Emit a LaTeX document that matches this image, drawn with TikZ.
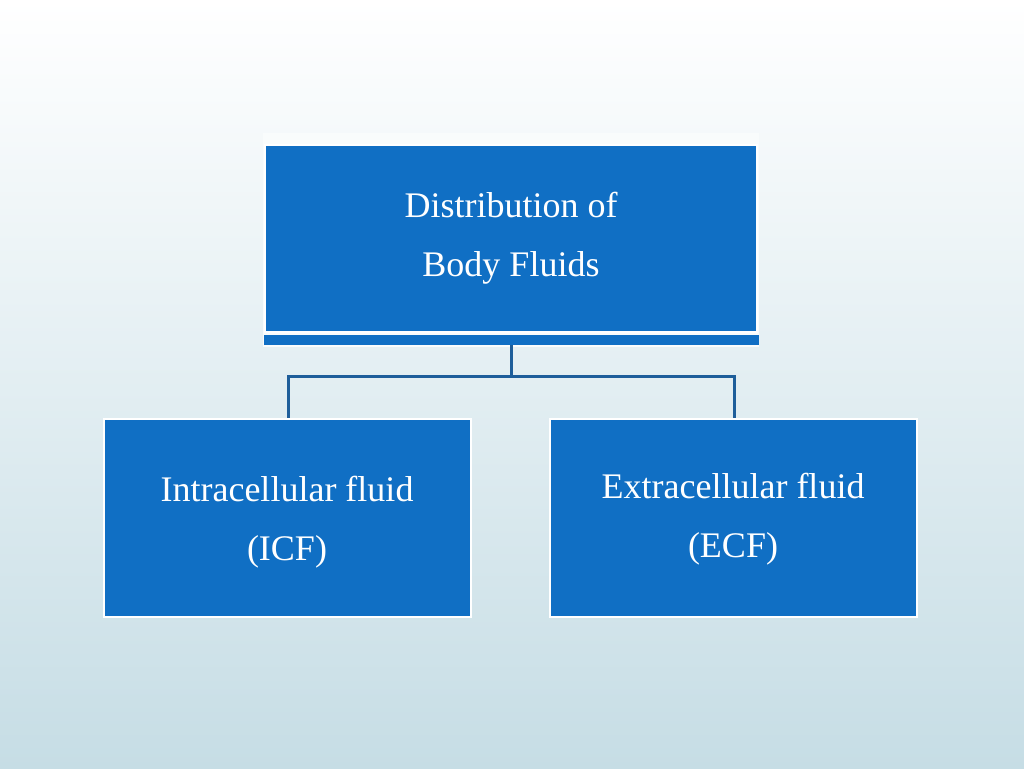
\documentclass[tikz,border=0pt]{standalone}
\usepackage{fontspec}
\setmainfont{Liberation Serif}
\begin{document}
\begin{tikzpicture}[x=1pt,y=-1pt,
  box/.style={draw=white,line width=2pt,fill=boxblue},
  lbl/.style={text=white,font=\fontsize{36}{59}\selectfont,align=center},
  conn/.style={draw=linkblue,line width=3pt}]
\definecolor{boxblue}{HTML}{106FC4}
\definecolor{linkblue}{HTML}{1E5E9A}
\definecolor{bgbot}{HTML}{C6DDE5}
\shade[top color=white,bottom color=bgbot] (0,0) rectangle (1024,768);
\useasboundingbox (0,0) rectangle (1024,768);
\fill[white!90!bgbot] (263,133) rectangle (759,347);
\fill[boxblue] (264,335) rectangle (759,345);
\draw[box] (265,145) rectangle (757,332);
\node[lbl] (top) at (511,238) {Distribution of\\Body Fluids};
\coordinate (tb) at (511,345);
\draw[box] (104,419) rectangle (471,617);
\node[lbl] (icf) at (287,522) {Intracellular fluid\\(ICF)};
\draw[box] (550,419) rectangle (917,617);
\node[lbl] (ecf) at (733,519) {Extracellular fluid\\(ECF)};
\coordinate (lt) at (288,418);
\coordinate (rt) at (734,418);
\draw[conn] (tb) -- (511,376) -| (lt);
\draw[conn] (511,376) -| (rt);
\end{tikzpicture}
\end{document}
